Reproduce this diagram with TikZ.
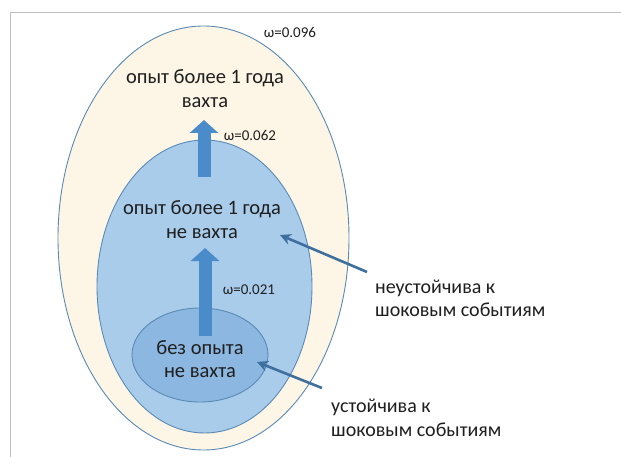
\documentclass[tikz,border=0pt]{standalone}
\usepackage{fontspec}
\setmainfont{Carlito}
\usetikzlibrary{arrows.meta,shapes.geometric}
\definecolor{outerfill}{HTML}{FDF6E6}
\definecolor{edgeblue}{HTML}{5A8AB5}
\definecolor{midfill}{HTML}{A9CCEB}
\definecolor{innfill}{HTML}{8BB7E0}
\definecolor{blockblue}{HTML}{4A8BC9}
\definecolor{pointer}{HTML}{3F6F9E}
\definecolor{framegray}{HTML}{BEBEBE}
\begin{document}
\begin{tikzpicture}[x=1pt,y=-1pt,
  ring/.style={ellipse, draw=edgeblue, line width=0.9pt, inner sep=0pt},
  bigtext/.style={font=\fontsize{20.5}{23.5}\selectfont, align=center, inner sep=0pt, text=black!88},
  wlabel/.style={font=\fontsize{15}{17}\selectfont, inner sep=0pt, text=black!88},
  sidetext/.style={font=\fontsize{20}{23.5}\selectfont, align=left, anchor=west, inner sep=0pt, text=black!88},
  blockarrow/.style={draw=blockblue, line width=13pt, -{Triangle[width=28pt,length=13pt]}},
  pointarrow/.style={draw=pointer, line width=2.6pt, -{Stealth[width=11pt,length=11pt]}}]
\useasboundingbox (0,0) rectangle (621,457);
\fill[white] (0,0) rectangle (621,457);
\draw[framegray, line width=1.5pt] (10.5,457) -- (10.5,12.5) -- (621,12.5);
% ellipses
\node[ring, fill=outerfill, minimum width=291pt, minimum height=424pt] (outer) at (203.5,238) {};
\node[ring, fill=midfill, minimum width=215pt, minimum height=293pt] (middle) at (204.5,286.5) {};
\node[ring, fill=innfill, minimum width=136pt, minimum height=94pt] (inner) at (200,355) {};
% texts
\node[bigtext] (t1) at (205,88.5) {опыт более 1 года\\вахта};
\node[bigtext] (t2) at (202,219.5) {опыт более 1 года\\не вахта};
\node[bigtext] (t3) at (200,359) {без опыта\\не вахта};
\node[wlabel] (w1) at (290,32) {ω=0.096};
\node[wlabel] (w2) at (250,135) {ω=0.062};
\node[wlabel] (w3) at (249,290) {ω=0.021};
\node[sidetext] (s1) at (375,298.5) {неустойчива к\\шоковым событиям};
\node[sidetext] (s2) at (331,418) {устойчива к\\шоковым событиям};
% block arrows
\coordinate (a1s) at (204,177);
\coordinate (a1e) at (204,120);
\coordinate (a2s) at (205,336);
\coordinate (a2e) at (205,248);
\draw[blockarrow] (a1s) -- (a1e);
\draw[blockarrow] (a2s) -- (a2e);
% pointer arrows
\coordinate (p1s) at (367,272);
\coordinate (p1e) at (280,235);
\coordinate (p2s) at (322,388);
\coordinate (p2e) at (257,362);
\draw[pointarrow] (p1s) -- (p1e);
\draw[pointarrow] (p2s) -- (p2e);
\end{tikzpicture}
\end{document}
